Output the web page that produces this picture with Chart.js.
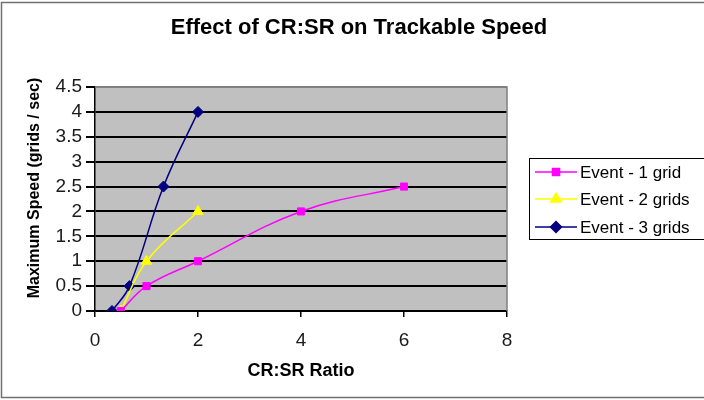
<!DOCTYPE html>
<html>
<head>
<meta charset="utf-8">
<script src="https://cdn.jsdelivr.net/npm/chart.js@4/dist/chart.umd.min.js"></script>
<style>
  html, body { margin: 0; padding: 0; background: #ffffff; }
  #wrap { width: 704px; height: 400px; }
</style>
</head>
<body>
<div id="wrap"><canvas id="c" width="704" height="400"></canvas></div>
<script>
// ---- data ----
const chartTitle = "Effect of CR:SR on Trackable Speed";
const xAxisTitle = "CR:SR Ratio";
const yAxisTitle = "Maximum Speed (grids / sec)";
const seriesNames = ["Event - 1 grid", "Event - 2 grids", "Event - 3 grids"];

const xEvent1 = [0.5, 1, 2, 4, 6];
const yEvent1 = [0, 0.5, 1, 2, 2.5];

const xEvent2 = [0.5, 1, 2];
const yEvent2 = [0, 1, 2];

const xEvent3 = [0.33, 0.67, 1.33, 2];
const yEvent3 = [0, 0.5, 2.5, 4];

const xTicks = [0, 2, 4, 6, 8];
const yTicks = [0, 0.5, 1, 1.5, 2, 2.5, 3, 3.5, 4, 4.5];

// ---- build ----
const FONT = "'Liberation Sans', Arial, sans-serif";
function pts(xs, ys) { return xs.map((x, i) => ({ x: x, y: ys[i] })); }

const styles = [
  { color: '#ff00ff', pointStyle: 'rect', radius: 5 },
  { color: '#ffff00', pointStyle: 'triangle', radius: 6 },
  { color: '#000080', pointStyle: 'rectRot', radius: 5.5 }
];
const rawSeries = [pts(xEvent1, yEvent1), pts(xEvent2, yEvent2), pts(xEvent3, yEvent3)];

const datasets = rawSeries.map((d, i) => ({
  label: seriesNames[i],
  data: d,
  showLine: true,
  tension: 0.4,
  borderColor: styles[i].color,
  backgroundColor: styles[i].color,
  borderWidth: 1.5,
  pointStyle: styles[i].pointStyle,
  pointRadius: styles[i].radius,
  pointHoverRadius: styles[i].radius,
  pointBorderWidth: 1,
  pointBorderColor: styles[i].color,
  pointBackgroundColor: styles[i].color
}));

const decor = {
  id: 'decor',
  beforeDraw(chart) {
    const { ctx, chartArea: a } = chart;
    ctx.save();
    ctx.fillStyle = '#c0c0c0';
    ctx.fillRect(a.left, a.top, a.right - a.left, a.bottom - a.top);
    ctx.restore();
  },
  beforeDatasetsDraw(chart) {
    const { ctx, chartArea: a } = chart;
    ctx.save();
    ctx.strokeStyle = '#808080';
    ctx.lineWidth = 1.5;
    ctx.beginPath();
    ctx.moveTo(a.left, a.top);
    ctx.lineTo(a.right, a.top);
    ctx.lineTo(a.right, a.bottom);
    ctx.stroke();
    ctx.restore();
  },
  afterDraw(chart) {
    const { ctx, chartArea: a } = chart;
    ctx.save();
    // outer frame
    ctx.strokeStyle = '#707070';
    ctx.lineWidth = 1.5;
    ctx.strokeRect(1.5, 2.5, 720, 395);

    ctx.fillStyle = '#000';
    ctx.textAlign = 'center';
    ctx.textBaseline = 'middle';
    // chart title
    ctx.font = "bold 22px " + FONT;
    ctx.fillText(chartTitle, 359, 28);
    // x title
    ctx.font = "bold 18px " + FONT;
    ctx.fillText(xAxisTitle, (a.left + a.right) / 2, 371);
    // y title
    ctx.save();
    ctx.translate(35, 188);
    ctx.rotate(-Math.PI / 2);
    ctx.font = "bold 16px " + FONT;
    ctx.fillText(yAxisTitle, 0, 0);
    ctx.restore();

    // legend
    const lx = 529.5, ly = 158.5, lh = 81;
    ctx.fillStyle = '#ffffff';
    ctx.fillRect(lx, ly, 200, lh);
    ctx.strokeStyle = '#000';
    ctx.lineWidth = 1;
    ctx.strokeRect(lx, ly, 200, lh);
    const rows = [172, 199, 227];
    chart.data.datasets.forEach((ds, i) => {
      const y = rows[i];
      ctx.strokeStyle = ds.borderColor;
      ctx.lineWidth = 1.5;
      ctx.beginPath();
      ctx.moveTo(535, y);
      ctx.lineTo(577, y);
      ctx.stroke();
      ctx.fillStyle = ds.pointBackgroundColor;
      ctx.strokeStyle = ds.pointBorderColor;
      Chart.helpers.drawPoint(ctx, {
        pointStyle: ds.pointStyle,
        radius: ds.pointRadius,
        borderWidth: 1,
        rotation: 0
      }, 556, y);
      ctx.fillStyle = '#000';
      ctx.textAlign = 'left';
      ctx.font = "17px " + FONT;
      ctx.fillText(ds.label, 580, y + 1);
    });
    ctx.restore();
  }
};

new Chart(document.getElementById('c'), {
  type: 'scatter',
  data: { datasets: datasets },
  options: {
    responsive: false,
    animation: false,
    devicePixelRatio: 1,
    layout: { padding: { left: 0, top: 87, right: 197, bottom: 0 } },
    plugins: {
      legend: { display: false },
      title: { display: false },
      tooltip: { enabled: false }
    },
    scales: {
      x: {
        type: 'linear',
        min: xTicks[0],
        max: xTicks[xTicks.length - 1],
        afterBuildTicks(scale) { scale.ticks = xTicks.map(v => ({ value: v })); },
        afterFit(scale) { scale.height = 89; },
        grid: { drawOnChartArea: false, drawTicks: true, tickLength: 6, color: '#000', lineWidth: 1.5 },
        border: { display: true, color: '#000', width: 1.5 },
        ticks: {
          padding: 12,
          autoSkip: false,
          color: '#1a1a1a',
          font: { family: FONT, size: 19 },
          maxRotation: 0,
          callback: v => String(v)
        },
        title: { display: false }
      },
      y: {
        type: 'linear',
        min: yTicks[0],
        max: yTicks[yTicks.length - 1],
        afterBuildTicks(scale) { scale.ticks = yTicks.map(v => ({ value: v })); },
        afterFit(scale) { scale.width = 95; },
        grid: {
          drawOnChartArea: true,
          drawTicks: true,
          tickLength: 9,
          lineWidth: 2,
          color: c => (c.tick && c.tick.value === yTicks[yTicks.length - 1]) ? '#808080' : '#000',
          tickColor: '#000'
        },
        border: { display: true, color: '#000', width: 1.5 },
        ticks: {
          padding: 4,
          autoSkip: false,
          color: '#1a1a1a',
          font: { family: FONT, size: 19 },
          callback: v => String(v)
        },
        title: { display: false }
      }
    }
  },
  plugins: [decor]
});
</script>
</body>
</html>
